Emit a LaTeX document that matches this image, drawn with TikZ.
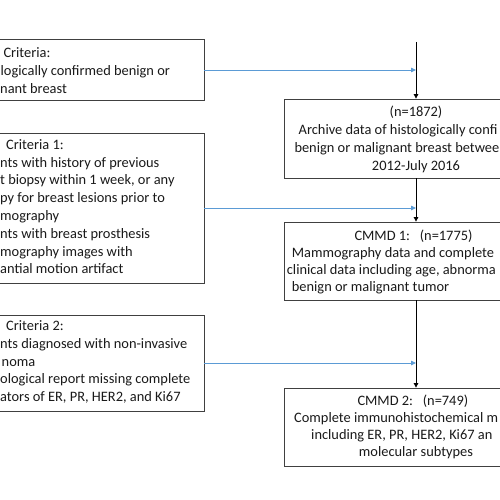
\documentclass[tikz,border=0pt]{standalone}
\usepackage{fontspec}
\setmainfont{Carlito}
\usetikzlibrary{arrows.meta}
\definecolor{boxgray}{HTML}{404040}
\definecolor{txtcol}{HTML}{1A1A1A}
\definecolor{flowblue}{HTML}{5B9BD5}
\begin{document}
\begin{tikzpicture}[x=1pt,y=-1pt,
  box/.style={draw=boxgray, line width=0.8pt, rectangle, inner sep=0pt, fill=white},
  txt/.style={inner sep=0pt, text=txtcol, font=\fontsize{14.4}{17.6}\selectfont},
  flow/.style={draw=black, line width=0.8pt, -{Triangle[length=4.5pt,width=4.5pt]}},
  blueflow/.style={draw=flowblue, line width=0.8pt, -{Triangle[length=5pt,width=4.5pt]}}]
\useasboundingbox (0,0) rectangle (500,500);
\clip (0,0) rectangle (500,500);
% left boxes
\node[box, minimum width=244pt, minimum height=61pt] (lb1) at (82,70) {};
\node[box, minimum width=244pt, minimum height=150pt] (lb2) at (82,208) {};
\node[box, minimum width=244pt, minimum height=96pt] (lb3) at (82,363) {};
% right boxes
\node[box, minimum width=264pt, minimum height=79pt] (rb1) at (416,138.5) {};
\node[box, minimum width=264pt, minimum height=78pt] (rb2) at (416,261) {};
\node[box, minimum width=264pt, minimum height=78pt] (rb3) at (416,427) {};
\coordinate (top) at (416,42);
% connectors
\draw[flow] (top) -- (rb1.north);
\draw[flow] (rb1.south) -- (rb2.north);
\draw[flow] (rb2.south) -- (rb3.north);
\draw[blueflow] (lb1.east) -- (lb1.east -| rb1.north);
\draw[blueflow] (lb2.east) -- (lb2.east -| rb1.north);
\draw[blueflow] (lb3.east) -- (lb3.east -| rb1.north);
% left box 1 text
\node[txt, anchor=base west] (a1) at (3.3,58) {Criteria:};
\node[txt, anchor=base west] (a2) at (0.5,75.6) {logically confirmed benign or};
\node[txt, anchor=base west] (a3) at (0,93.2) {nant breast};
% left box 2 text
\node[txt, anchor=base west] (b1) at (6,149.3) {Criteria 1:};
\node[txt, anchor=base west] (b2) at (0,167.1) {nts with history of previous};
\node[txt, anchor=base west] (b3) at (0,184.9) {t biopsy within 1 week, or any};
\node[txt, anchor=base west] (b4) at (0,202.7) {py for breast lesions prior to};
\node[txt, anchor=base west] (b5) at (0,220.5) {mography};
\node[txt, anchor=base west] (b6) at (0,238.3) {nts with breast prosthesis};
\node[txt, anchor=base west] (b7) at (0,256.1) {mography images with};
\node[txt, anchor=base west] (b8) at (0,273.9) {antial motion artifact};
% left box 3 text
\node[txt, anchor=base west] (c1) at (6,330.7) {Criteria 2:};
\node[txt, anchor=base west] (c2) at (0,348.4) {nts diagnosed with non-invasive};
\node[txt, anchor=base west] (c3) at (1.5,366.1) {noma};
\node[txt, anchor=base west] (c4) at (0,383.8) {ological report missing complete};
\node[txt, anchor=base west] (c5) at (0,401.5) {ators of ER, PR, HER2, and Ki67};
% right box 1 text
\node[txt, anchor=base] (d1) at (416,117) {(n=1872)};
\node[txt, anchor=base west] (d2) at (298.5,134.7) {Archive data of histologically confi};
\node[txt, anchor=base west] (d3) at (294.3,152.4) {benign or malignant breast betwee};
\node[txt, anchor=base] (d4) at (416,170) {2012-July 2016};
% right box 2 text
\node[txt, anchor=base west] (e1) at (354.3,240) {CMMD 1:\ \ \ (n=1775)};
\node[txt, anchor=base west] (e2) at (291.7,257.3) {Mammography data and complete};
\node[txt, anchor=base west] (e3) at (286.7,274.6) {clinical data including age, abnorma};
\node[txt, anchor=base west] (e4) at (291.7,291.9) {benign or malignant tumor};
% right box 3 text
\node[txt, anchor=base west] (f1) at (357.3,405) {CMMD 2:\ \ \ (n=749)};
\node[txt, anchor=base west] (f2) at (294,422.3) {Complete immunohistochemical m};
\node[txt, anchor=base west] (f3) at (311,439.6) {including ER, PR, HER2, Ki67 an};
\node[txt, anchor=base] (f4) at (416,456.9) {molecular subtypes};
\end{tikzpicture}
\end{document}
